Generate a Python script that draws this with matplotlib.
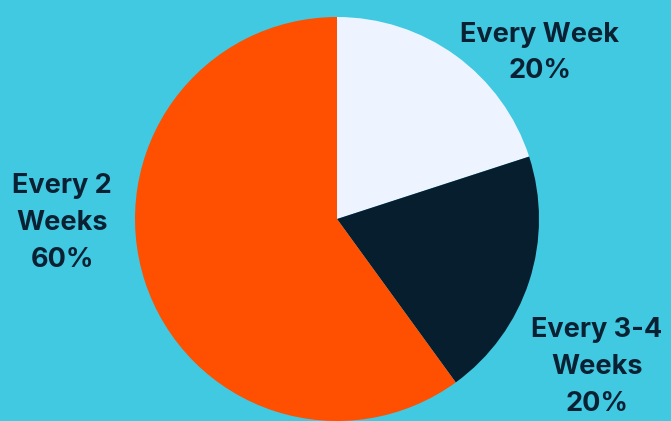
import matplotlib
matplotlib.use("Agg")
import matplotlib.pyplot as plt

labels = ["Every Week", "Every 3-4\nWeeks", "Every 2\nWeeks"]
shares = [20, 20, 60]
colors = ["#EEF4FF", "#071E2E", "#FF4F00"]
bg = "#41C9E2"
ink = "#0A2133"

W, H = 671, 421
fig = plt.figure(figsize=(W / 100, H / 100), dpi=100, facecolor=bg)
ax = fig.add_axes([0, 0, 1, 1])
ax.set_facecolor(bg)

ax.pie(shares, colors=colors, startangle=90, counterclock=False,
       center=(337, H - 219), radius=202,
       wedgeprops=dict(linewidth=0))
ax.set_xlim(0, W)
ax.set_ylim(0, H)
ax.set_aspect("equal")
ax.axis("off")

# label placement (pixel coords from top-left)
label_pos = [(540, 53), (597, 367), (62, 223)]
for lab, s, (x, y) in zip(labels, shares, label_pos):
    ax.text(x, H - y, f"{lab}\n{s}%", ha="center", va="center",
            fontsize=19.5, fontweight="bold", family="Inter", color=ink,
            linespacing=1.55)

fig.savefig("out.png", dpi=100, facecolor=bg)
